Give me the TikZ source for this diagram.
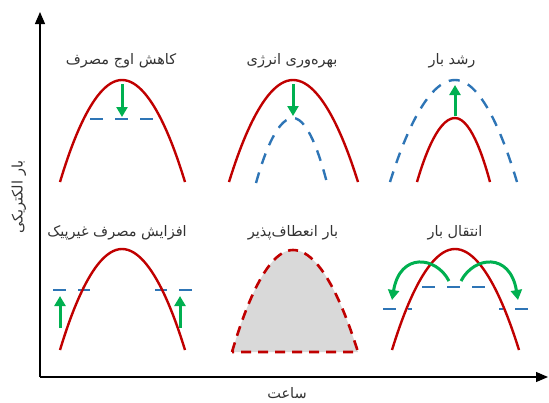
\documentclass[tikz,border=0pt]{standalone}
\usepackage{fontspec}
\usetikzlibrary{arrows.meta}
\newfontfamily\fa[Script=Arabic]{DejaVu Sans}
\TeXXeTstate=1
\definecolor{cred}{RGB}{192,0,0}
\definecolor{cblue}{RGB}{46,117,182}
\definecolor{cgreen}{RGB}{0,176,80}
\definecolor{cgray}{RGB}{217,217,217}
\tikzset{
  redline/.style={draw=cred,line width=2.4pt},
  bluedash/.style={draw=cblue,line width=2.4pt,dash pattern=on 13pt off 12pt},
  bluecurve/.style={draw=cblue,line width=2.4pt,dash pattern=on 11pt off 9pt},
  reddash/.style={draw=cred,line width=2.6pt,dash pattern=on 10pt off 7pt,fill=cgray},
  garrow/.style={draw=cgreen,line width=3pt,-{Triangle[width=11pt,length=10pt]}},
  axis/.style={draw=black,line width=1.2pt,-{Triangle[width=10pt,length=12pt]}},
  lbl/.style={inner sep=0pt,font=\fa\fontsize{14.5}{16}\selectfont,text=black!80},
}
\begin{document}
\begin{tikzpicture}[x=1pt,y=-1pt]
\useasboundingbox (0,0) rectangle (549,402);
% axes
\coordinate (o) at (40,377);
\coordinate (ytop) at (40,12);
\coordinate (xend) at (548,377);
\draw[axis] (o) -- (ytop);
\draw[axis] (o) -- (xend);
\node[lbl,rotate=90] (ylab) at (19,197) {\fa\beginR بار الکتریکی\endR};
\node[lbl] (xlab) at (287,393) {\fa\beginR ساعت\endR};

% panel 1
\node[lbl] (l1) at (121,61) {\fa\beginR کاهش اوج مصرف\endR};
\draw[redline] (60,182) parabola bend (122,80) (185,182);
\draw[bluedash] (90,119) -- (155,119);
\coordinate (a1s) at (122,84);
\coordinate (a1e) at (122,117);
\draw[garrow] (a1s) -- (a1e);

% panel 2
\node[lbl] (l2) at (292,61) {\fa\beginR بهره‌وری انرژی\endR};
\draw[redline] (229,182) parabola bend (293,80) (358,182);
\draw[bluecurve] (256,183) parabola bend (293,118) (327,183);
\coordinate (a2s) at (293,84);
\coordinate (a2e) at (293,116);
\draw[garrow] (a2s) -- (a2e);

% panel 3
\node[lbl] (l3) at (452,61) {\fa\beginR رشد بار\endR};
\draw[bluecurve] (390,182) parabola bend (455,80) (517,182);
\draw[redline] (417,182) parabola bend (455,118) (490,182);
\coordinate (a3s) at (455,116);
\coordinate (a3e) at (455,85);
\draw[garrow] (a3s) -- (a3e);

% panel 4
\node[lbl] (l4) at (117,233) {\fa\beginR افزایش مصرف غیرپیک\endR};
\draw[bluedash] (53,290) -- (90,290);
\draw[bluedash] (192,290) -- (155,290);
\draw[redline] (60,350) parabola bend (122,249) (185,350);
\coordinate (a4s) at (60,328);
\coordinate (a4e) at (60,296);
\coordinate (a5s) at (180,328);
\coordinate (a5e) at (180,296);
\draw[garrow] (a4s) -- (a4e);
\draw[garrow] (a5s) -- (a5e);

% panel 5
\node[lbl] (l5) at (293,233) {\fa\beginR بار انعطاف‌پذیر\endR};
\draw[reddash] (232,352) parabola bend (293,250) (358,352) -- cycle;

% panel 6
\node[lbl] (l6) at (455,233) {\fa\beginR انتقال بار\endR};
\draw[bluedash] (422,287) -- (487,287);
\draw[bluedash] (383,309) -- (412,309);
\draw[bluedash] (528,309) -- (499,309);
\draw[redline] (392,350) parabola bend (455,249) (519,350);
\coordinate (a6s) at (449,281);
\coordinate (a6e) at (392,300);
\coordinate (a7s) at (461,281);
\coordinate (a7e) at (518,300);
\draw[garrow] (a6s) .. controls (436,256) and (400,252) .. (a6e);
\draw[garrow] (a7s) .. controls (474,256) and (510,252) .. (a7e);
\end{tikzpicture}
\end{document}
